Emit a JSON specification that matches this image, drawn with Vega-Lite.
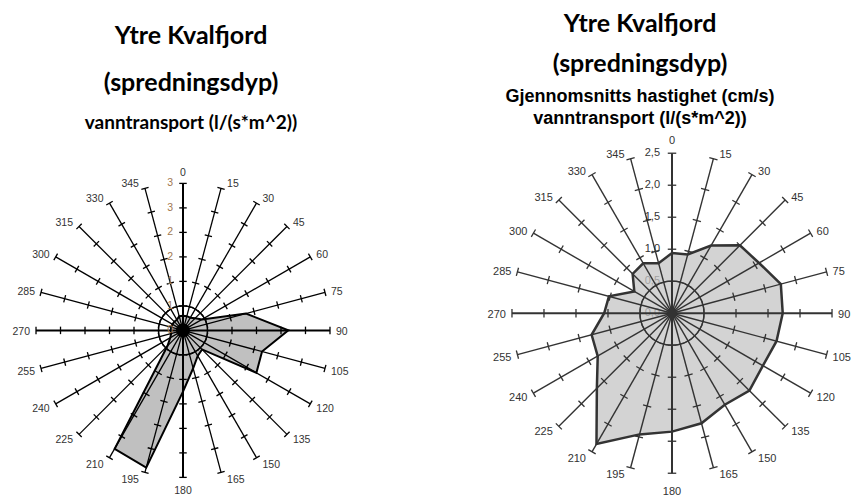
{
 "$schema": "https://vega.github.io/schema/vega-lite/v6.json",
 "padding": {"top": 11, "left": 0, "right": 0, "bottom": 0},
 "background": "white",
 "bounds": "flush",
 "spacing": 131,
 "config": {"view": {"stroke": null}},
 "datasets": {
  "ang": [{"a":0},{"a":15},{"a":30},{"a":45},{"a":60},{"a":75},{"a":90},{"a":105},{"a":120},{"a":135},{"a":150},{"a":165},{"a":180},{"a":195},{"a":210},{"a":225},{"a":240},{"a":255},{"a":270},{"a":285},{"a":300},{"a":315},{"a":330},{"a":345}],
  "left": [{"a":0,"v":0.3},{"a":15,"v":0.3},{"a":30,"v":0.3},{"a":45,"v":0.35},{"a":60,"v":0.45},{"a":75,"v":1.33},{"a":90,"v":2.15},{"a":105,"v":1.67},{"a":120,"v":1.73},{"a":135,"v":0.55},{"a":150,"v":0.6},{"a":165,"v":0.8},{"a":180,"v":1.25},{"a":195,"v":2.9},{"a":210,"v":2.79},{"a":225,"v":0.45},{"a":240,"v":0.3},{"a":255,"v":0.25},{"a":270,"v":0.25},{"a":285,"v":0.25},{"a":300,"v":0.25},{"a":315,"v":0.25},{"a":330,"v":0.25},{"a":345,"v":0.3}],
  "right": [{"a":0,"v":0.94},{"a":15,"v":0.95},{"a":30,"v":1.22},{"a":45,"v":1.5},{"a":60,"v":1.57},{"a":75,"v":1.76},{"a":90,"v":1.73},{"a":105,"v":1.69},{"a":120,"v":1.64},{"a":135,"v":1.71},{"a":150,"v":1.65},{"a":165,"v":1.78},{"a":180,"v":1.85},{"a":195,"v":1.96},{"a":210,"v":2.36},{"a":225,"v":1.66},{"a":240,"v":1.34},{"a":255,"v":1.3},{"a":270,"v":1.06},{"a":285,"v":1.02},{"a":300,"v":0.68},{"a":315,"v":0.87},{"a":330,"v":0.9},{"a":345,"v":0.81}],
  "tk3": [{"t":0.5,"a":[0,15,30,45,60,75,90,105,120,135,150,165,180,195,210,225,240,255,270,285,300,315,330,345]},{"t":1,"a":[0,15,30,45,60,75,90,105,120,135,150,165,180,195,210,225,240,255,270,285,300,315,330,345]},{"t":1.5,"a":[0,15,30,45,60,75,90,105,120,135,150,165,180,195,210,225,240,255,270,285,300,315,330,345]},{"t":2,"a":[0,15,30,45,60,75,90,105,120,135,150,165,180,195,210,225,240,255,270,285,300,315,330,345]},{"t":2.5,"a":[0,15,30,45,60,75,90,105,120,135,150,165,180,195,210,225,240,255,270,285,300,315,330,345]},{"t":3,"a":[0,15,30,45,60,75,90,105,120,135,150,165,180,195,210,225,240,255,270,285,300,315,330,345]}],
  "tk25": [{"t":0.5,"a":[0,15,30,45,60,75,90,105,120,135,150,165,180,195,210,225,240,255,270,285,300,315,330,345]},{"t":1,"a":[0,15,30,45,60,75,90,105,120,135,150,165,180,195,210,225,240,255,270,285,300,315,330,345]},{"t":1.5,"a":[0,15,30,45,60,75,90,105,120,135,150,165,180,195,210,225,240,255,270,285,300,315,330,345]},{"t":2,"a":[0,15,30,45,60,75,90,105,120,135,150,165,180,195,210,225,240,255,270,285,300,315,330,345]},{"t":2.5,"a":[0,15,30,45,60,75,90,105,120,135,150,165,180,195,210,225,240,255,270,285,300,315,330,345]}],
  "vl3": [{"t":0,"s":"0"},{"t":0.5,"s":"1"},{"t":1,"s":"1"},{"t":1.5,"s":"2"},{"t":2,"s":"2"},{"t":2.5,"s":"3"},{"t":3,"s":"3"}],
  "vl25": [{"t":0,"s":"0,0"},{"t":0.5,"s":"0,5"},{"t":1,"s":"1,0"},{"t":1.5,"s":"1,5"},{"t":2,"s":"2,0"},{"t":2.5,"s":"2,5"}],
  "one": [{"o":0}]
 },
 "hconcat": [
  {
   "width": 366, "height": 350,
   "title": {"text": ["Ytre Kvalfjord", "(spredningsdyp)"], "subtitle": "vanntransport (l/(s*m^2))", "font": "Lato", "fontSize": 25, "fontWeight": "bold", "lineHeight": 47, "color": "#000", "subtitleFont": "Lato", "subtitleFontSize": 19, "subtitleLineHeight": 19, "subtitleFontWeight": "bold", "subtitleColor": "#000", "subtitlePadding": 18.5, "offset": 11, "anchor": "middle", "frame": "group", "dx": 8},
   "layer": [
    {"data": {"name": "left"},
     "transform": [{"calculate": "datum.v*sin(datum.a*PI/180)", "as": "px"}, {"calculate": "datum.v*cos(datum.a*PI/180)", "as": "py"}],
     "mark": {"type": "line", "interpolate": "linear-closed", "fill": "#c0c0c0", "stroke": "#000", "strokeWidth": 2, "strokeJoin": "miter"},
     "encoding": {"x": {"field": "px", "type": "quantitative", "scale": {"domain": [-3.735, 3.735], "nice": false, "zero": false}, "axis": null}, "y": {"field": "py", "type": "quantitative", "scale": {"domain": [-3.339, 3.804], "nice": false, "zero": false}, "axis": null}, "order": {"field": "a", "type": "quantitative"}}},
    {"data": {"name": "ang"},
     "transform": [{"calculate": "0", "as": "o"}, {"calculate": "3*sin(datum.a*PI/180)", "as": "ex"}, {"calculate": "3*cos(datum.a*PI/180)", "as": "ey"}],
     "mark": {"type": "rule", "color": "#000"},
     "encoding": {"x": {"field": "o", "type": "quantitative"}, "y": {"field": "o", "type": "quantitative"}, "x2": {"field": "ex", "type": "quantitative"}, "y2": {"field": "ey", "type": "quantitative"}, "strokeWidth": {"condition": {"test": "datum.a % 90 === 0", "value": 2}, "value": 1.3}}},
    {"data": {"name": "tk3"},
     "transform": [{"flatten": ["a"]}, {"calculate": "datum.t*sin(datum.a*PI/180)", "as": "px"}, {"calculate": "datum.t*cos(datum.a*PI/180)", "as": "py"}],
     "mark": {"type": "point", "shape": "stroke", "size": 56, "strokeWidth": 1.3, "color": "#000", "filled": false, "opacity": 1},
     "encoding": {"x": {"field": "px", "type": "quantitative"}, "y": {"field": "py", "type": "quantitative"}, "angle": {"field": "a", "type": "quantitative", "scale": {"domain": [0, 360], "range": [0, 360]}}}},
    {"data": {"name": "one"},
     "mark": {"type": "point", "shape": "circle", "size": 2401, "filled": false, "stroke": "#000", "strokeWidth": 1.3, "opacity": 1},
     "encoding": {"x": {"field": "o", "type": "quantitative"}, "y": {"field": "o", "type": "quantitative"}}},
    {"data": {"name": "one"},
     "mark": {"type": "point", "shape": "circle", "size": 196, "filled": true, "color": "#000", "opacity": 1},
     "encoding": {"x": {"field": "o", "type": "quantitative"}, "y": {"field": "o", "type": "quantitative"}}},
    {"data": {"name": "ang"},
     "transform": [{"filter": "datum.a > 0 && datum.a < 180"}, {"calculate": "3*sin(datum.a*PI/180)", "as": "px"}, {"calculate": "3.13*cos(datum.a*PI/180)", "as": "py"}],
     "mark": {"type": "text", "align": "left", "baseline": "middle", "dx": 6, "dy": 1.5, "font": "Liberation Sans", "fontSize": 10.5, "color": "#333"},
     "encoding": {"x": {"field": "px", "type": "quantitative"}, "y": {"field": "py", "type": "quantitative"}, "text": {"field": "a", "type": "quantitative"}}},
    {"data": {"name": "ang"},
     "transform": [{"filter": "datum.a > 180"}, {"calculate": "3*sin(datum.a*PI/180)", "as": "px"}, {"calculate": "3.13*cos(datum.a*PI/180)", "as": "py"}],
     "mark": {"type": "text", "align": "right", "baseline": "middle", "dx": -6, "dy": 1.5, "font": "Liberation Sans", "fontSize": 10.5, "color": "#333"},
     "encoding": {"x": {"field": "px", "type": "quantitative"}, "y": {"field": "py", "type": "quantitative"}, "text": {"field": "a", "type": "quantitative"}}},
    {"data": {"name": "ang"},
     "transform": [{"filter": "datum.a % 180 === 0"}, {"calculate": "0", "as": "px"}, {"calculate": "3.25*cos(datum.a*PI/180)", "as": "py"}],
     "mark": {"type": "text", "align": "center", "baseline": "middle", "dy": 1.5, "font": "Liberation Sans", "fontSize": 10.5, "color": "#333"},
     "encoding": {"x": {"field": "px", "type": "quantitative"}, "y": {"field": "py", "type": "quantitative"}, "text": {"field": "a", "type": "quantitative"}}},
    {"data": {"name": "vl3"},
     "transform": [{"calculate": "0", "as": "px"}],
     "mark": {"type": "text", "align": "right", "baseline": "middle", "dx": -10, "font": "Liberation Sans", "fontSize": 10.5, "color": "#a07850"},
     "encoding": {"x": {"field": "px", "type": "quantitative"}, "y": {"field": "t", "type": "quantitative"}, "text": {"field": "s", "type": "nominal"}}}
   ]
  },
  {
   "width": 350, "height": 350,
   "title": {"text": ["Ytre Kvalfjord", "(spredningsdyp)"], "subtitle": ["Gjennomsnitts hastighet (cm/s)", "vanntransport (l/(s*m^2))"], "font": "Lato", "fontSize": 25, "fontWeight": "bold", "lineHeight": 40, "color": "#000", "subtitleFont": "Liberation Sans", "subtitleFontSize": 18, "subtitleFontWeight": "bold", "subtitleLineHeight": 22, "subtitleColor": "#000", "subtitlePadding": 11.5, "offset": 6.5, "anchor": "middle", "frame": "group", "dx": -32},
   "layer": [
    {"data": {"name": "vl25"},
     "transform": [{"calculate": "0", "as": "px"}],
     "mark": {"type": "text", "align": "right", "baseline": "middle", "dx": -12, "font": "Liberation Sans", "fontSize": 11, "color": "#333"},
     "encoding": {"x": {"field": "px", "type": "quantitative", "scale": {"domain": [-2.734, 2.734], "nice": false, "zero": false}, "axis": null}, "y": {"field": "t", "type": "quantitative", "scale": {"domain": [-2.8245, 2.644], "nice": false, "zero": false}, "axis": null}, "text": {"field": "s", "type": "nominal"}}},
    {"data": {"name": "right"},
     "transform": [{"calculate": "datum.v*sin(datum.a*PI/180)", "as": "px"}, {"calculate": "datum.v*cos(datum.a*PI/180)", "as": "py"}],
     "mark": {"type": "line", "interpolate": "linear-closed", "fill": "#c4c4c4", "fillOpacity": 0.75, "stroke": "#333", "strokeWidth": 2.5, "strokeJoin": "miter"},
     "encoding": {"x": {"field": "px", "type": "quantitative"}, "y": {"field": "py", "type": "quantitative"}, "order": {"field": "a", "type": "quantitative"}}},
    {"data": {"name": "ang"},
     "transform": [{"calculate": "0", "as": "o"}, {"calculate": "2.5*sin(datum.a*PI/180)", "as": "ex"}, {"calculate": "2.5*cos(datum.a*PI/180)", "as": "ey"}],
     "mark": {"type": "rule", "color": "#333"},
     "encoding": {"x": {"field": "o", "type": "quantitative"}, "y": {"field": "o", "type": "quantitative"}, "x2": {"field": "ex", "type": "quantitative"}, "y2": {"field": "ey", "type": "quantitative"}, "strokeWidth": {"condition": {"test": "datum.a % 90 === 0", "value": 2}, "value": 1.4}}},
    {"data": {"name": "tk25"},
     "transform": [{"flatten": ["a"]}, {"calculate": "datum.t*sin(datum.a*PI/180)", "as": "px"}, {"calculate": "datum.t*cos(datum.a*PI/180)", "as": "py"}],
     "mark": {"type": "point", "shape": "stroke", "size": 72, "strokeWidth": 1.3, "color": "#333", "filled": false, "opacity": 1},
     "encoding": {"x": {"field": "px", "type": "quantitative"}, "y": {"field": "py", "type": "quantitative"}, "angle": {"field": "a", "type": "quantitative", "scale": {"domain": [0, 360], "range": [0, 360]}}}},
    {"data": {"name": "one"},
     "mark": {"type": "point", "shape": "circle", "size": 4096, "filled": false, "stroke": "#333", "strokeWidth": 1.3, "opacity": 1},
     "encoding": {"x": {"field": "o", "type": "quantitative"}, "y": {"field": "o", "type": "quantitative"}}},
    {"data": {"name": "one"},
     "mark": {"type": "point", "shape": "circle", "size": 100, "filled": true, "color": "#333", "opacity": 1},
     "encoding": {"x": {"field": "o", "type": "quantitative"}, "y": {"field": "o", "type": "quantitative"}}},
    {"data": {"name": "ang"},
     "transform": [{"filter": "datum.a > 0 && datum.a < 180"}, {"calculate": "2.5*sin(datum.a*PI/180)", "as": "px"}, {"calculate": "2.586*cos(datum.a*PI/180)", "as": "py"}],
     "mark": {"type": "text", "align": "left", "baseline": "middle", "dx": 6, "dy": 2, "font": "Liberation Sans", "fontSize": 11, "color": "#333"},
     "encoding": {"x": {"field": "px", "type": "quantitative"}, "y": {"field": "py", "type": "quantitative"}, "text": {"field": "a", "type": "quantitative"}}},
    {"data": {"name": "ang"},
     "transform": [{"filter": "datum.a > 180"}, {"calculate": "2.5*sin(datum.a*PI/180)", "as": "px"}, {"calculate": "2.586*cos(datum.a*PI/180)", "as": "py"}],
     "mark": {"type": "text", "align": "right", "baseline": "middle", "dx": -6, "dy": 2, "font": "Liberation Sans", "fontSize": 11, "color": "#333"},
     "encoding": {"x": {"field": "px", "type": "quantitative"}, "y": {"field": "py", "type": "quantitative"}, "text": {"field": "a", "type": "quantitative"}}},
    {"data": {"name": "ang"},
     "transform": [{"filter": "datum.a % 180 === 0"}, {"calculate": "0", "as": "px"}, {"calculate": "2.74*cos(datum.a*PI/180)", "as": "py"}],
     "mark": {"type": "text", "align": "center", "baseline": "middle", "dy": 3, "font": "Liberation Sans", "fontSize": 11, "color": "#333"},
     "encoding": {"x": {"field": "px", "type": "quantitative"}, "y": {"field": "py", "type": "quantitative"}, "text": {"field": "a", "type": "quantitative"}}}
   ]
  }
 ]
}
